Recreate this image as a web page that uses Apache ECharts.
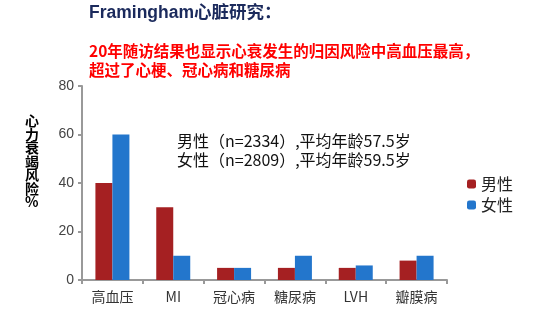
<!DOCTYPE html>
<html><head><meta charset="utf-8">
<script src="https://cdn.jsdelivr.net/npm/echarts@6/dist/echarts.min.js"></script>
<style>html,body{margin:0;padding:0;background:#fff}#c{width:539px;height:328px}</style>
</head><body><div id="c"></div>
<script>
const categories = ['高血压', 'MI', '冠心病', '糖尿病', 'LVH', '瓣膜病'];
const male = [40, 30, 5, 5, 5, 8];
const female = [60, 10, 5, 10, 6, 10];
const yTicks = [0, 20, 40, 60, 80];
const seriesNames = ['男性', '女性'];

const chart = echarts.init(document.getElementById('c'), null, {renderer: 'canvas'});
const font = '"Noto Sans CJK SC", "Liberation Sans", sans-serif';
chart.setOption({
  animation: false,
  textStyle: {fontFamily: font},
  grid: {left: 82, right: 92, top: 86, bottom: 48},
  legend: {
    orient: 'vertical', left: 462, top: 171, itemWidth: 9, itemHeight: 9, itemGap: 5,
    textStyle: {fontSize: 16, color: '#222', fontFamily: font},
    data: seriesNames
  },
  xAxis: {
    type: 'category', data: categories,
    axisLine: {lineStyle: {color: '#999', width: 2}},
    axisTick: {show: true, length: 4, lineStyle: {color: '#999', width: 2}},
    axisLabel: {fontSize: 14, color: '#333', margin: 10}
  },
  yAxis: {
    type: 'value', min: yTicks[0], max: yTicks[yTicks.length - 1], interval: 20,
    axisLine: {show: true, lineStyle: {color: '#999', width: 2}},
    axisTick: {show: true, length: 4, lineStyle: {color: '#999', width: 2}},
    splitLine: {show: false},
    axisLabel: {fontSize: 14, color: '#444', margin: 8, fontFamily: '"Liberation Sans", sans-serif'}
  },
  series: [
    {name: seriesNames[0], type: 'bar', data: male, barWidth: 17, barGap: '0%', itemStyle: {color: '#A52022'}},
    {name: seriesNames[1], type: 'bar', data: female, barWidth: 17, itemStyle: {color: '#2376CC'}}
  ],
  graphic: [
    {type: 'text', left: 89, top: 4, style: {text: 'Framingham心脏研究：', fontSize: 17.5, fontWeight: 'bold', fill: '#1B2A5C', fontFamily: '"Liberation Sans", "Noto Sans CJK SC", sans-serif'}},
    {type: 'text', left: 89, top: 42, style: {text: '20年随访结果也显示心衰发生的归因风险中高血压最高，\n超过了心梗、冠心病和糖尿病', fontSize: 15.5, fontWeight: 'bold', fill: '#FF0000', lineHeight: 19, fontFamily: font}},
    {type: 'text', left: 177, top: 131, style: {text: '男性（n=2334）,平均年龄57.5岁\n女性（n=2809）,平均年龄59.5岁', fontSize: 16, fill: '#111', lineHeight: 19, fontFamily: font}},
    {type: 'text', left: 25, top: 114, style: {text: '心\n力\n衰\n竭\n风\n险\n%', fontSize: 14, fontWeight: 'bold', fill: '#000', lineHeight: 13.5, fontFamily: font}}
  ]
});
</script></body></html>
